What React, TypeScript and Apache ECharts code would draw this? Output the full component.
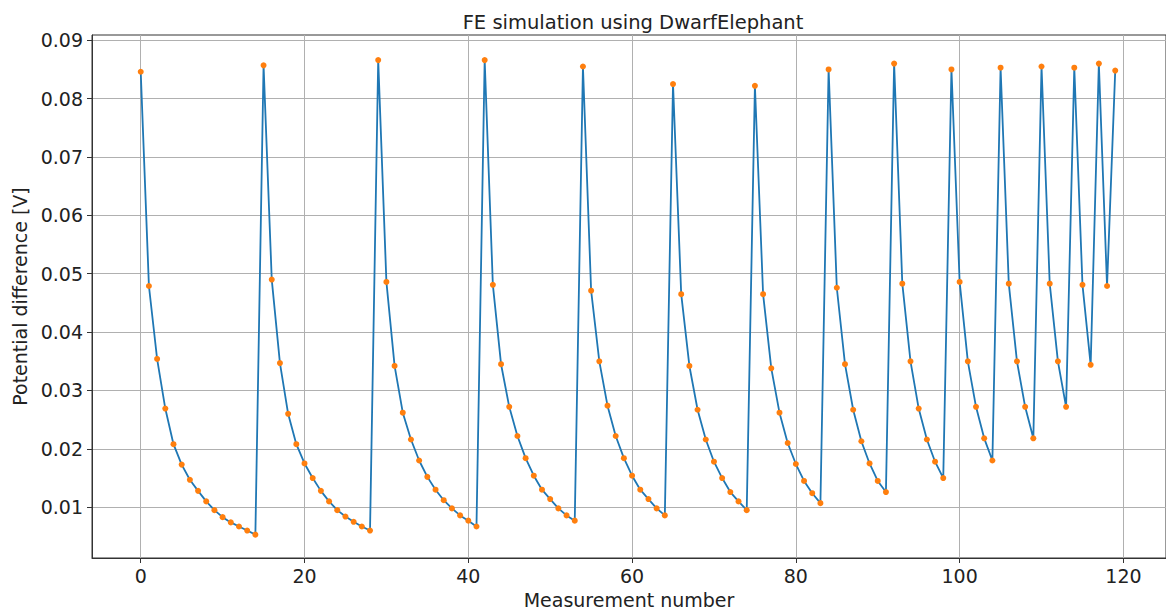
import React, { useEffect, useRef } from "react";
import * as echarts from "echarts";

const titleText = "FE simulation using DwarfElephant";
const xName = "Measurement number";
const yName = "Potential difference [V]";

const xTicks = [0, 20, 40, 60, 80, 100, 120];
const yTicks = [0.01, 0.02, 0.03, 0.04, 0.05, 0.06, 0.07, 0.08, 0.09];

// Potential difference [V] for measurement number 0..119
const potential = [
  0.0846, 0.0479, 0.0354, 0.0269, 0.0208, 0.0173, 0.0147, 0.0128, 0.011, 0.0095,
  0.0083, 0.0074, 0.0067, 0.006, 0.0053,
  0.0857, 0.049, 0.0347, 0.026, 0.0208, 0.0175, 0.015, 0.0128, 0.011, 0.0095,
  0.0084, 0.0075, 0.0067, 0.006,
  0.0866, 0.0486, 0.0342, 0.0262, 0.0216, 0.018, 0.0152, 0.013, 0.0112, 0.0098,
  0.0086, 0.0077, 0.0067,
  0.0866, 0.0481, 0.0345, 0.0272, 0.0222, 0.0184, 0.0154, 0.013, 0.0114, 0.0098,
  0.0086, 0.0077,
  0.0855, 0.0471, 0.035, 0.0274, 0.0222, 0.0184, 0.0154, 0.013, 0.0114, 0.0098,
  0.0086,
  0.0825, 0.0465, 0.0342, 0.0267, 0.0216, 0.0178, 0.015, 0.0126, 0.011, 0.0095,
  0.0822, 0.0465, 0.0338, 0.0262, 0.021, 0.0174, 0.0145, 0.0124, 0.0107,
  0.085, 0.0476, 0.0345, 0.0267, 0.0213, 0.0175, 0.0145, 0.0126,
  0.086, 0.0483, 0.035, 0.0269, 0.0216, 0.0178, 0.015,
  0.085, 0.0486, 0.035, 0.0272, 0.0218, 0.018,
  0.0853, 0.0483, 0.035, 0.0272, 0.0218,
  0.0855, 0.0483, 0.035, 0.0272,
  0.0853, 0.0481, 0.0344,
  0.086, 0.0479,
  0.0848,
];

const FONT = "DejaVu Sans";
const TEXT = "#222";

export default function App() {
  const ref = useRef<HTMLDivElement>(null);
  useEffect(() => {
    if (!ref.current) return;
    const chart = echarts.init(ref.current, undefined, { renderer: "svg" });
    const pts = potential.map((v, i) => [i, v]);
    chart.setOption({
      animation: false,
      backgroundColor: "#ffffff",
      title: {
        text: titleText,
        left: 628,
        textAlign: "center",
        top: 7,
        textStyle: { fontFamily: FONT, fontSize: 19.5, fontWeight: "normal", color: TEXT },
      },
      grid: {
        left: 92,
        top: 35,
        right: -2,
        bottom: 55,
        show: true,
        borderColor: "#333",
        borderWidth: 1,
        containLabel: false,
      },
      xAxis: {
        type: "value",
        min: -5.95,
        max: 125.2,
        splitNumber: 6,
        minInterval: 20,
        maxInterval: 20,
        name: xName,
        nameLocation: "middle",
        nameGap: 32,
        nameTextStyle: { fontFamily: FONT, fontSize: 19, color: TEXT },
        axisLine: { show: true, onZero: false, lineStyle: { color: "#333", width: 1 } },
        axisTick: { show: true, length: 5, lineStyle: { color: "#333" }, customValues: xTicks },
        axisLabel: {
          fontFamily: FONT,
          fontSize: 19,
          color: TEXT,
          margin: 8,
          customValues: xTicks,
        },
        splitLine: { show: true, lineStyle: { color: "#b0b0b0", width: 1 } },
      },
      yAxis: {
        type: "value",
        min: 0.0013,
        max: 0.0909,
        splitNumber: 9,
        minInterval: 0.01,
        maxInterval: 0.01,
        name: yName,
        nameLocation: "middle",
        nameGap: 62,
        nameTextStyle: { fontFamily: FONT, fontSize: 19, color: TEXT },
        axisLine: { show: true, onZero: false, lineStyle: { color: "#333", width: 1 } },
        axisTick: { show: true, length: 5, lineStyle: { color: "#333" }, customValues: yTicks },
        axisLabel: {
          fontFamily: FONT,
          fontSize: 19,
          color: TEXT,
          margin: 9,
          customValues: yTicks,
          formatter: (v: number) => v.toFixed(2),
        },
        splitLine: { show: true, lineStyle: { color: "#b0b0b0", width: 1 } },
      },
      series: [
        {
          type: "line",
          data: pts,
          showSymbol: false,
          symbol: "none",
          lineStyle: { color: "#1f77b4", width: 1.8 },
          z: 2,
        },
        {
          type: "scatter",
          data: pts,
          symbol: "circle",
          symbolSize: 6,
          itemStyle: { color: "#ff7f0e", opacity: 1 },
          z: 3,
        },
      ],
    });
    return () => chart.dispose();
  }, []);
  return (
    <div
      ref={ref}
      style={{ position: "absolute", left: 0, top: 0, width: 1166, height: 614 }}
    />
  );
}
